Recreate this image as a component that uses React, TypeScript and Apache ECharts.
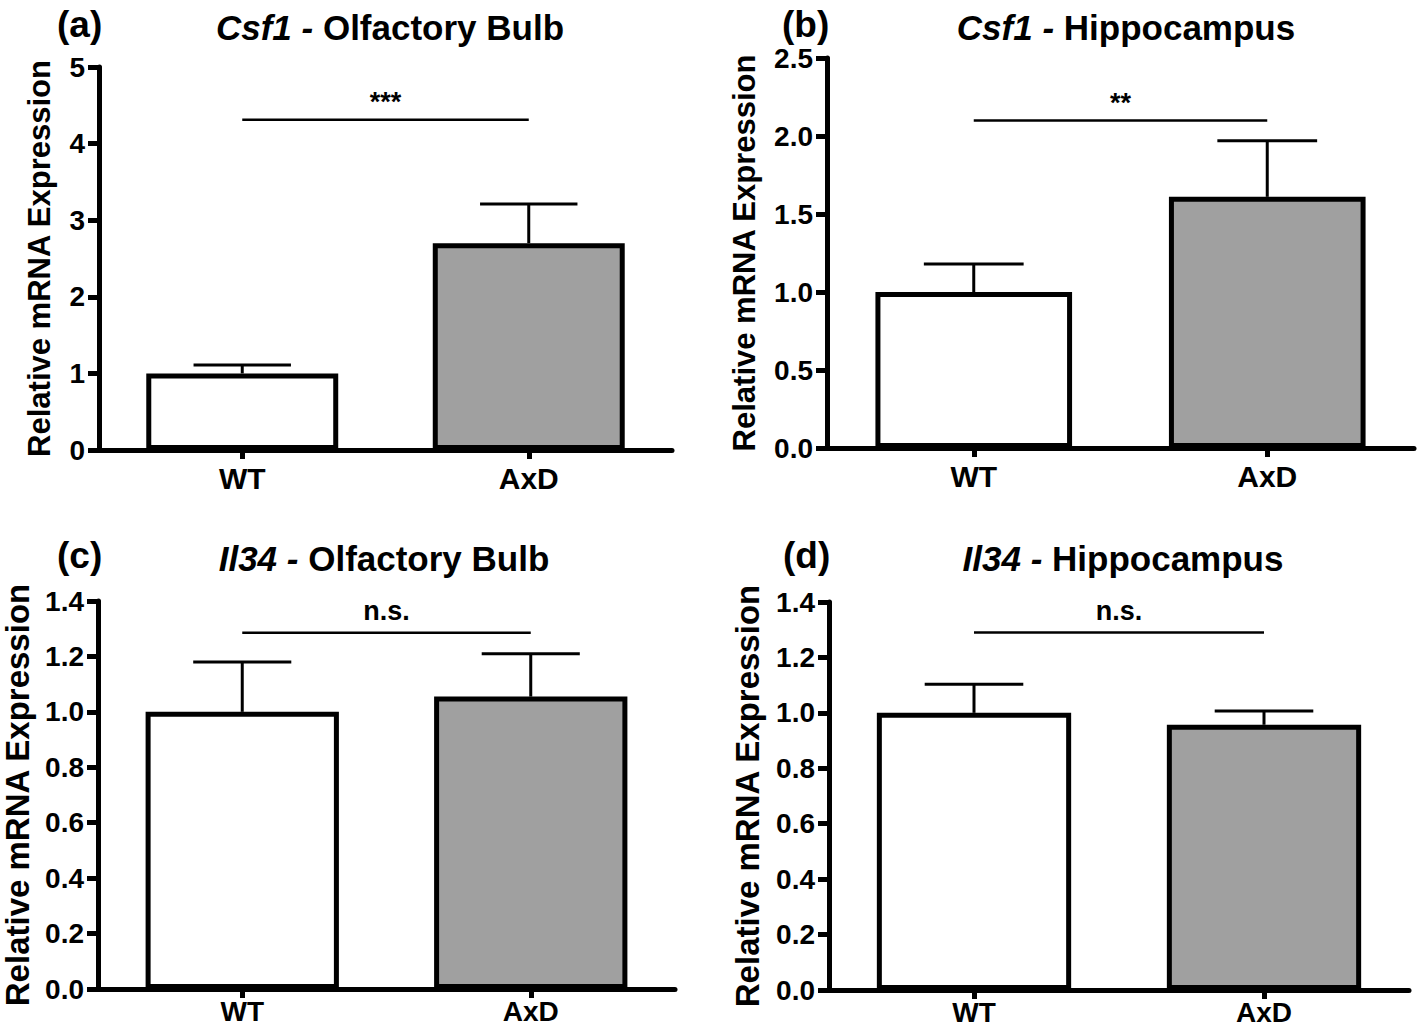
import React, { useEffect, useRef } from "react";
import * as echarts from "echarts";

const FONT = "'Liberation Sans', Arial, Helvetica, sans-serif";

const categories = ["WT", "AxD"];
const barFills = ["#ffffff", "#a0a0a0"];

const csf1OlfMean = [1.0, 2.7];
const csf1OlfSem = [0.11, 0.51];
const csf1HipMean = [1.0, 1.61];
const csf1HipSem = [0.18, 0.36];
const il34OlfMean = [1.0, 1.055];
const il34OlfSem = [0.18, 0.155];
const il34HipMean = [1.0, 0.957];
const il34HipSem = [0.103, 0.05];

const yMaxes = [5, 2.5, 1.4, 1.4];
const yIntervals = [1, 0.5, 0.2, 0.2];
const yDecimals = [0, 1, 1, 1];
const sigLevels = [4.31, 2.1, 1.285, 1.29];
const sigTexts = ["***", "**", "n.s.", "n.s."];
const panelLetters = ["(a)", "(b)", "(c)", "(d)"];
const geneNames = ["Csf1", "Csf1", "Il34", "Il34"];
const regionNames = ["Olfactory Bulb", "Hippocampus", "Olfactory Bulb", "Hippocampus"];

const means = [csf1OlfMean, csf1HipMean, il34OlfMean, il34HipMean];
const sems = [csf1OlfSem, csf1HipSem, il34OlfSem, il34HipSem];

// layout (pixels)
const grids = [
  { left: 99, top: 67, width: 573, height: 383 },
  { left: 827, top: 58, width: 587, height: 390 },
  { left: 98, top: 601, width: 577, height: 388 },
  { left: 829, top: 602, width: 580, height: 388 },
];
const nameGaps = [44, 67, 64, 65];
const nameSizes = [31, 31, 33, 33];
const catLabelSizes = [30, 30, 28, 28];
const catLabelMargins = [13, 13, 8, 8];
const letterPos = [
  { left: 52, top: 1 },
  { left: 777, top: 1 },
  { left: 52, top: 532 },
  { left: 778, top: 532 },
];
const titleCenters = [
  { x: 385, top: 5 },
  { x: 1121, top: 5 },
  { x: 379, top: 536 },
  { x: 1118, top: 536 },
];

function errorRender(params: any, api: any) {
  const x = api.value(0);
  const m = api.value(1);
  const e = api.value(2);
  const p0 = api.coord([x, m]);
  const p1 = api.coord([x, m + e]);
  const bw = api.size([1, 0])[0] * 0.34;
  return {
    type: "group",
    children: [
      {
        type: "line",
        shape: { x1: p0[0], y1: p0[1], x2: p1[0], y2: p1[1] },
        style: { stroke: "#000", lineWidth: 3 },
      },
      {
        type: "line",
        shape: { x1: p1[0] - bw / 2, y1: p1[1], x2: p1[0] + bw / 2, y2: p1[1] },
        style: { stroke: "#000", lineWidth: 3 },
      },
    ],
  };
}

function makeSigRender(label: string) {
  return function (params: any, api: any) {
    const x0 = api.value(0);
    const y = api.value(1);
    const x1 = api.value(2);
    const a = api.coord([x0, y]);
    const b = api.coord([x1, y]);
    const isStar = label.indexOf("*") >= 0;
    return {
      type: "group",
      children: [
        {
          type: "line",
          shape: { x1: a[0], y1: a[1], x2: b[0], y2: b[1] },
          style: { stroke: "#000", lineWidth: 2.5 },
        },
        {
          type: "text",
          style: {
            text: label,
            x: (a[0] + b[0]) / 2,
            y: a[1] - (isStar ? 4 : 8),
            align: "center",
            verticalAlign: "bottom",
            fontSize: 27,
            fontWeight: "bold",
            fontFamily: FONT,
            fill: "#000",
          },
        },
      ],
    };
  };
}

function buildOption() {
  const title: any[] = [];
  const xAxis: any[] = [];
  const yAxis: any[] = [];
  const series: any[] = [];

  for (let i = 0; i < 4; i++) {
    title.push({
      text: panelLetters[i],
      left: letterPos[i].left,
      top: letterPos[i].top,
      textStyle: { fontSize: 37, fontWeight: "bold", fontFamily: FONT, color: "#000" },
    });
    title.push({
      text: "{i|" + geneNames[i] + " -} " + regionNames[i],
      left: titleCenters[i].x,
      top: titleCenters[i].top,
      textAlign: "center",
      textStyle: {
        fontSize: 35,
        fontWeight: "bold",
        fontFamily: FONT,
        color: "#000",
        rich: {
          i: { fontSize: 35, fontWeight: "bold", fontStyle: "italic", fontFamily: FONT, color: "#000" },
        },
      },
    });

    xAxis.push({
      type: "category",
      gridIndex: i,
      data: categories,
      boundaryGap: true,
      axisLine: { show: true, onZero: false, lineStyle: { color: "#000", width: 5 } },
      axisTick: { show: true, alignWithLabel: true, length: 9, lineStyle: { color: "#000", width: 5 } },
      axisLabel: {
        color: "#000",
        fontSize: catLabelSizes[i],
        fontWeight: "bold",
        fontFamily: FONT,
        margin: catLabelMargins[i],
      },
      splitLine: { show: false },
    });

    const dec = yDecimals[i];
    yAxis.push({
      type: "value",
      gridIndex: i,
      min: 0,
      max: yMaxes[i],
      interval: yIntervals[i],
      axisLine: { show: true, lineStyle: { color: "#000", width: 5 } },
      axisTick: { show: true, length: 11, lineStyle: { color: "#000", width: 5 } },
      splitLine: { show: false },
      axisLabel: {
        color: "#000",
        fontSize: 28,
        fontWeight: "bold",
        fontFamily: FONT,
        margin: 14,
        formatter: (v: number) => v.toFixed(dec),
      },
      name: "Relative mRNA Expression",
      nameLocation: "middle",
      nameGap: nameGaps[i],
      nameTextStyle: { color: "#000", fontSize: nameSizes[i], fontWeight: "bold", fontFamily: FONT },
    });

    series.push({
      type: "bar",
      xAxisIndex: i,
      yAxisIndex: i,
      barWidth: "67%",
      z: 2,
      data: means[i].map((v, j) => ({
        value: v,
        itemStyle: { color: barFills[j], borderColor: "#000", borderWidth: 5 },
      })),
    });

    series.push({
      type: "custom",
      xAxisIndex: i,
      yAxisIndex: i,
      z: 3,
      renderItem: errorRender,
      data: means[i].map((m, j) => [j, m, sems[i][j]]),
    });

    series.push({
      type: "custom",
      xAxisIndex: i,
      yAxisIndex: i,
      z: 3,
      renderItem: makeSigRender(sigTexts[i]),
      data: [[0, sigLevels[i], 1]],
    });
  }

  return {
    animation: false,
    backgroundColor: "#ffffff",
    textStyle: { fontFamily: FONT },
    title,
    grid: grids.map((g) => ({ ...g, containLabel: false, outerBoundsMode: "none" })),
    xAxis,
    yAxis,
    series,
  };
}

export default function App() {
  const ref = useRef<HTMLDivElement>(null);
  useEffect(() => {
    const chart = echarts.init(ref.current!, null, { renderer: "svg" });
    chart.setOption(buildOption() as any);
    return () => chart.dispose();
  }, []);
  return (
    <div
      ref={ref}
      style={{ position: "absolute", left: 0, top: 0, width: 1418, height: 1030, background: "#fff" }}
    />
  );
}
